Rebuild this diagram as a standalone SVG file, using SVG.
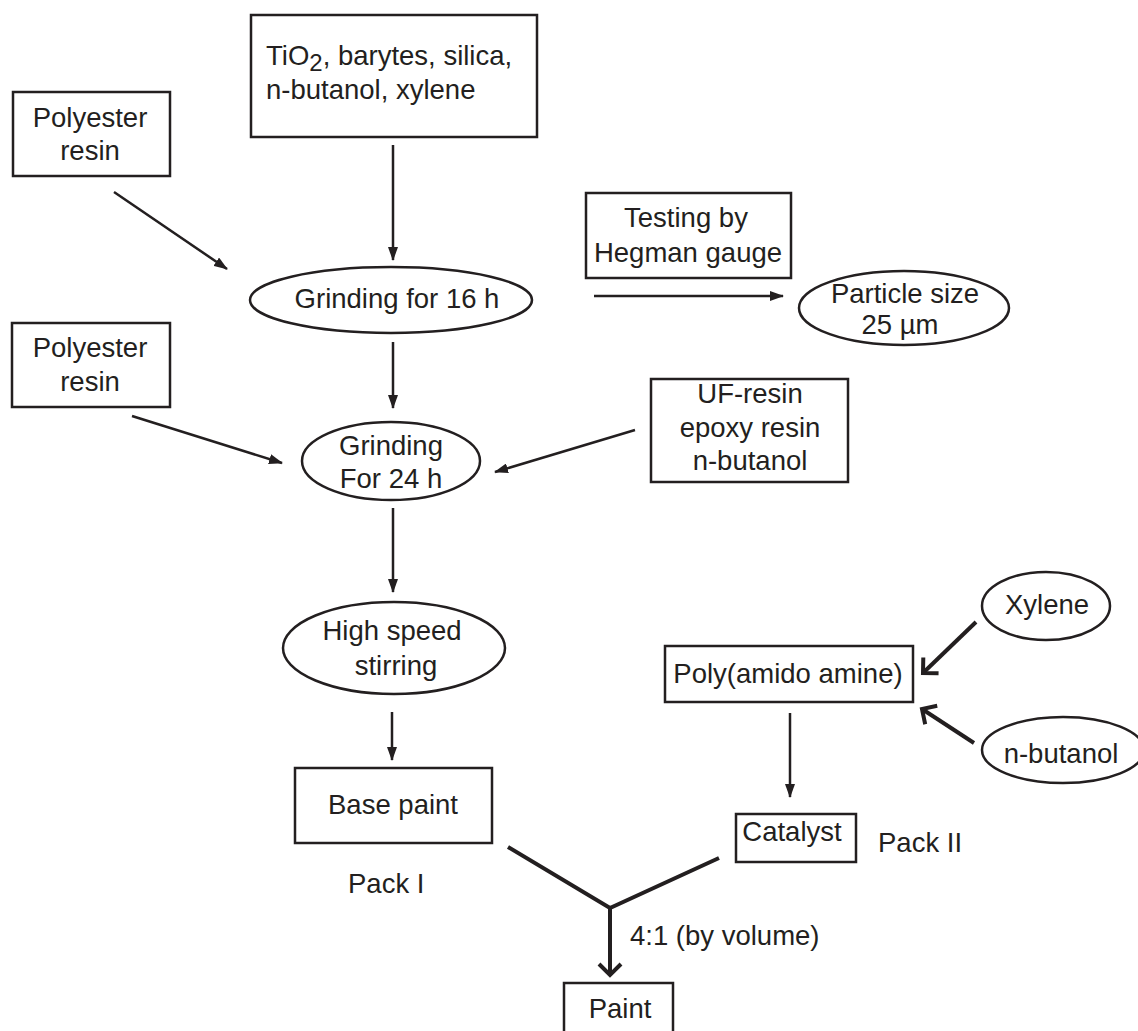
<svg xmlns="http://www.w3.org/2000/svg" width="1138" height="1031" viewBox="0 0 1138 1031">
<style>
.box{fill:#fff;stroke:#231f20;stroke-width:2.5}
.ell{fill:#fff;stroke:#231f20;stroke-width:2.5}
.t{font-family:"Liberation Sans",Arial,sans-serif;font-size:27.5px;fill:#231f20}
.m{text-anchor:middle}
.thin{stroke:#231f20;stroke-width:2.5;fill:none;marker-end:url(#tri)}
.thick{stroke:#231f20;stroke-width:4;fill:none}
.thickv{stroke:#231f20;stroke-width:4;fill:none;marker-end:url(#vee)}
</style>
<defs>
<marker id="tri" viewBox="0 0 14 10" refX="13" refY="5" markerWidth="14" markerHeight="10" orient="auto" markerUnits="userSpaceOnUse"><path d="M0,0 L14,5 L0,10 z" fill="#231f20"/></marker>
<marker id="vee" viewBox="-2 -14 20 28" refX="14" refY="0" markerWidth="20" markerHeight="28" orient="auto" markerUnits="userSpaceOnUse"><path d="M3,-11 L14,0 L3,11" fill="none" stroke="#231f20" stroke-width="4"/></marker>
</defs>
<rect width="1138" height="1031" fill="#fff"/>

<g id="connectors">
<line class="thin" x1="393" y1="145" x2="393" y2="260"/>
<line class="thin" x1="114" y1="192" x2="227" y2="269"/>
<line class="thin" x1="594" y1="296" x2="783" y2="296"/>
<line class="thin" x1="393" y1="342" x2="393" y2="408"/>
<line class="thin" x1="132" y1="416" x2="282" y2="463"/>
<line class="thin" x1="635" y1="430" x2="495" y2="472"/>
<line class="thin" x1="393" y1="508" x2="393" y2="592"/>
<line class="thin" x1="392" y1="712" x2="392" y2="760"/>
<line class="thickv" x1="976" y1="622" x2="923" y2="673"/>
<line class="thickv" x1="974" y1="743" x2="922" y2="709"/>
<line class="thin" x1="790" y1="713" x2="790" y2="797"/>
<polyline class="thick" points="508,847 610,908 719,858"/>
<line class="thickv" x1="610" y1="908" x2="610" y2="975"/>
</g>

<g id="n-raw">
<rect class="box" x="251" y="15" width="286" height="122"/>
<text class="t" x="266" y="65">TiO<tspan dy="6" font-size="24px">2</tspan><tspan dy="-6">, barytes, silica,</tspan></text>
<text class="t" x="266" y="99">n-butanol, xylene</text>
</g>

<g id="n-polyester1">
<rect class="box" x="13" y="92" width="157" height="84"/>
<text class="t m" x="90" y="127">Polyester</text>
<text class="t m" x="90" y="160">resin</text>
</g>

<g id="n-grind16">
<ellipse class="ell" cx="391" cy="300" rx="141" ry="33"/>
<text class="t m" x="397" y="308">Grinding for 16 h</text>
</g>

<g id="n-testing">
<rect class="box" x="586" y="193" width="205" height="85"/>
<text class="t m" x="686" y="227">Testing by</text>
<text class="t m" x="688" y="262">Hegman gauge</text>
</g>

<g id="n-particle">
<ellipse class="ell" cx="904" cy="308" rx="105" ry="37"/>
<text class="t m" x="905" y="303">Particle size</text>
<text class="t m" x="900" y="334">25 µm</text>
</g>

<g id="n-polyester2">
<rect class="box" x="12" y="323" width="158" height="84"/>
<text class="t m" x="90" y="357">Polyester</text>
<text class="t m" x="90" y="391">resin</text>
</g>

<g id="n-grind24">
<ellipse class="ell" cx="391" cy="461" rx="89" ry="39"/>
<text class="t m" x="391" y="455">Grinding</text>
<text class="t m" x="391" y="488">For 24 h</text>
</g>

<g id="n-uf">
<rect class="box" x="651" y="379" width="197" height="103"/>
<text class="t m" x="750" y="403">UF-resin</text>
<text class="t m" x="750" y="437">epoxy resin</text>
<text class="t m" x="750" y="470">n-butanol</text>
</g>

<g id="n-stirring">
<ellipse class="ell" cx="394" cy="648" rx="111" ry="46"/>
<text class="t m" x="392" y="640">High speed</text>
<text class="t m" x="396" y="675">stirring</text>
</g>

<g id="n-base">
<rect class="box" x="295" y="768" width="197" height="75"/>
<text class="t m" x="393" y="814">Base paint</text>
</g>

<g id="n-pack1">
<text class="t" x="348" y="893">Pack I</text>
</g>

<g id="n-xylene">
<ellipse class="ell" cx="1046" cy="606" rx="64" ry="34"/>
<text class="t m" x="1047" y="614">Xylene</text>
</g>

<g id="n-poly">
<rect class="box" x="665" y="646" width="248" height="56"/>
<text class="t m" x="788" y="683">Poly(amido amine)</text>
</g>

<g id="n-butanol">
<ellipse class="ell" cx="1063" cy="750" rx="81" ry="33"/>
<text class="t m" x="1061" y="763">n-butanol</text>
</g>

<g id="n-catalyst">
<rect class="box" x="736" y="814" width="120" height="48"/>
<text class="t m" x="792" y="841">Catalyst</text>
</g>

<g id="n-pack2">
<text class="t" x="878" y="852">Pack II</text>
</g>

<g id="n-ratio">
<text class="t" x="630" y="945">4:1 (by volume)</text>
</g>

<g id="n-paint">
<rect class="box" x="564" y="983" width="109" height="60"/>
<text class="t m" x="620" y="1018">Paint</text>
</g>
</svg>
